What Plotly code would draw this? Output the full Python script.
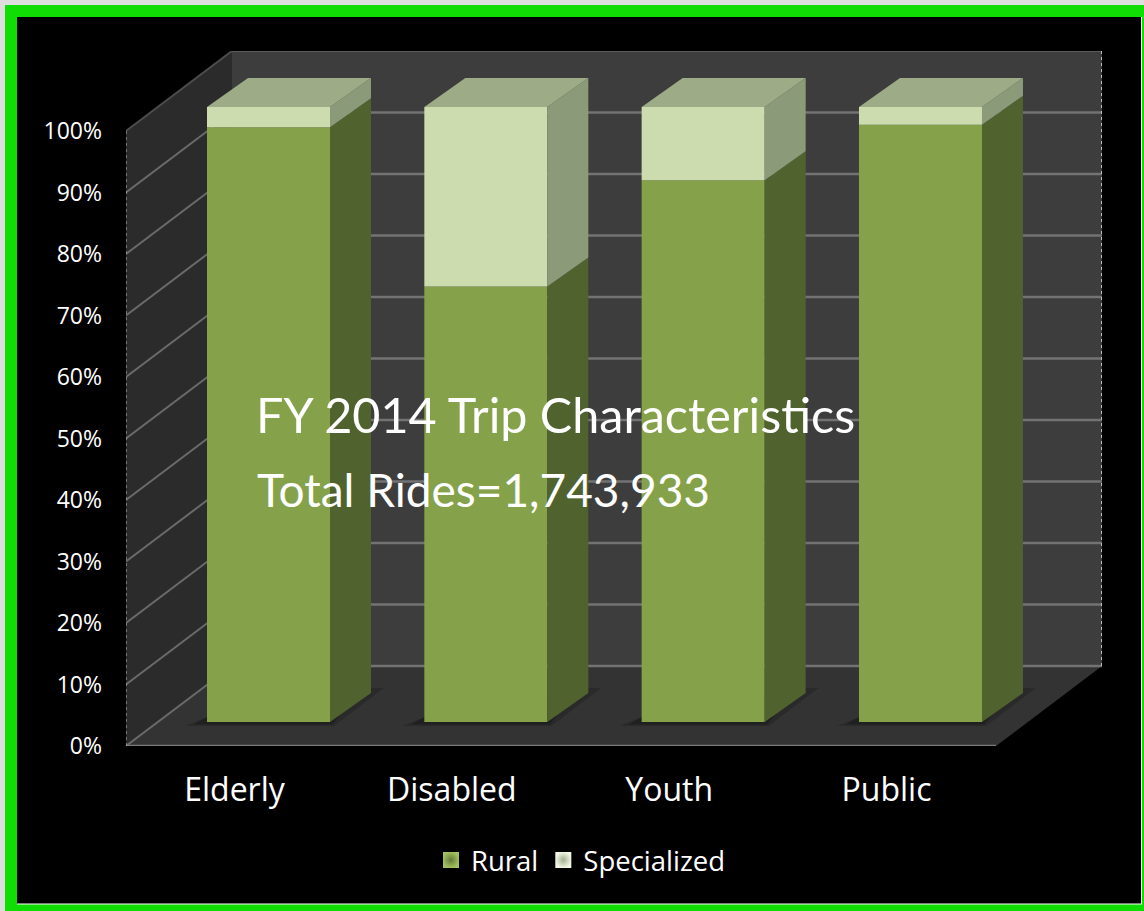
import plotly.graph_objects as go

categories = ["Elderly", "Disabled", "Youth", "Public"]
rural = [96.7, 70.8, 88.1, 97.1]
specialized = [3.3, 29.2, 11.9, 2.9]
y_ticks = [0, 10, 20, 30, 40, 50, 60, 70, 80, 90, 100]
title_lines = ["FY 2014 Trip Characteristics", "Total Rides=1,743,933"]

W, H = 1144, 911
L, R, T, B = 126, 1102, 51, 746          # plot rectangle in page pixels
PX_X = 217.33                            # pixels per category
PX_Y = (B - T) / 113.0                   # pixels per percent
X0 = -(268.5 - L) / PX_X
X1 = X0 + (R - L) / PX_X
dx = lambda p: p / PX_X
dy = lambda p: p / PX_Y
WALL_DX, WALL_DY = dx(106), dy(80)
BAR_DX, BAR_DY = dx(41), dy(29)
BAR_W = 123 / PX_X
BASE = dy(24)
FRONT_R = X0 + (996 - L) / PX_X
px = lambda v: (v - L) / (R - L)
py = lambda v: (B - v) / (B - T)

C_RURAL, C_RURAL_SIDE = "#85a24b", "#50632e"
C_SPEC, C_SPEC_SIDE, C_SPEC_TOP = "#cddcae", "#8b9a78", "#9dab87"
FONT = "Open Sans"


def poly(points):
    return "M" + " L".join(f"{a},{b}" for a, b in points) + " Z"


shapes = [
    dict(type="rect", xref="paper", yref="paper", x0=px(0), x1=px(W), y0=py(H), y1=py(0),
         fillcolor="#dedede", line_width=0, layer="below"),
    dict(type="rect", xref="paper", yref="paper", x0=px(5), x1=px(W), y0=py(H), y1=py(5),
         fillcolor="#10dd04", line_width=0, layer="below"),
    dict(type="rect", xref="paper", yref="paper", x0=px(17), x1=px(1142), y0=py(904.5), y1=py(17),
         fillcolor="#ffffff", line_width=0, layer="below"),
    dict(type="rect", xref="paper", yref="paper", x0=px(17), x1=px(1141), y0=py(903.5), y1=py(17),
         fillcolor="#000000", line_width=0, layer="below"),
    # left wall, back wall, floor
    dict(type="path", layer="below", line_width=0, fillcolor="#2b2b2b",
         path=poly([(X0, 0), (X0, 100), (X0 + WALL_DX, 100 + WALL_DY), (X0 + WALL_DX, WALL_DY)])),
    dict(type="path", layer="below", line_width=0, fillcolor="#3d3d3d",
         path=poly([(X0 + WALL_DX, WALL_DY), (X0 + WALL_DX, 100 + WALL_DY), (X1, 100 + WALL_DY), (X1, WALL_DY)])),
    dict(type="path", layer="below", line_width=0, fillcolor="#333333",
         path=poly([(X0, 0), (FRONT_R, 0), (X1, WALL_DY), (X0 + WALL_DX, WALL_DY)])),
]
for t in y_ticks:
    left_color = "#4c4c4c" if t == 100 else "#6a6a6a"
    shapes.append(dict(type="line", layer="below", x0=X0, y0=t, x1=X0 + WALL_DX, y1=t + WALL_DY,
                       line=dict(color=left_color, width=2)))
    if t < 100:
        shapes.append(dict(type="line", layer="below", x0=X0 + WALL_DX, y0=t + WALL_DY, x1=X1, y1=t + WALL_DY,
                           line=dict(color="#737373", width=2.5)))
shapes += [
    dict(type="line", layer="below", x0=X0, y0=0, x1=FRONT_R, y1=0, line=dict(color="#7a7a7a", width=2.5)),
    dict(type="line", layer="below", x0=X0 + WALL_DX, y0=100 + WALL_DY, x1=X1, y1=100 + WALL_DY,
         line=dict(color="#5a5a5a", width=2)),
    dict(type="line", layer="below", x0=X0, y0=0, x1=X0, y1=100, line=dict(color="#bbbbbb", width=1, dash="dot")),
    dict(type="line", layer="below", x0=X1, y0=WALL_DY, x1=X1, y1=100 + WALL_DY,
         line=dict(color="#bbbbbb", width=2, dash="dot")),
]
xpos = list(range(len(categories)))
for i in xpos:
    xl, xr = i - BAR_W / 2, i + BAR_W / 2
    for grow, alpha in ((1.0, 0.16), (0.6, 0.22)):
        shapes.append(dict(type="path", layer="below", line_width=0, fillcolor=f"rgba(0,0,0,{alpha})",
                           path=poly([(xl - dx(22 * grow), BASE - dy(4 * grow)), (xr + dx(4 * grow), BASE - dy(4 * grow)),
                                      (xr + dx(54 * grow), BASE + dy(34)), (xr + dx(38), BASE + dy(34)),
                                      (xl, BASE + dy(5))])))

fig = go.Figure()
fig.add_bar(name="Rural", x=xpos, y=rural, base=[BASE] * 4, width=BAR_W, marker_color=C_RURAL,
            marker_line_width=0, showlegend=False)
fig.add_bar(name="Specialized", x=xpos, y=specialized, base=[BASE + v for v in rural], width=BAR_W,
            marker_color=C_SPEC, marker_line_width=0, showlegend=False)

for i, r, s in zip(xpos, rural, specialized):
    xr = i + BAR_W / 2
    xl = i - BAR_W / 2
    mid, top = BASE + r, BASE + r + s
    faces = [
        ([xr, xr + BAR_DX, xr + BAR_DX, xr, xr], [BASE, BASE + BAR_DY, mid + BAR_DY, mid, BASE], C_RURAL_SIDE),
        ([xr, xr + BAR_DX, xr + BAR_DX, xr, xr], [mid, mid + BAR_DY, top + BAR_DY, top, mid], C_SPEC_SIDE),
        ([xl, xl + BAR_DX, xr + BAR_DX, xr, xl], [top, top + BAR_DY, top + BAR_DY, top, top], C_SPEC_TOP),
    ]
    for fx, fy, color in faces:
        fig.add_scatter(x=fx, y=fy, mode="lines", fill="toself", fillcolor=color, line_width=0,
                        showlegend=False, hoverinfo="skip")

# legend entries with the larger, shaded swatches of the reference
for name, centre, edge in (("Rural", "#a3c060", "#637a37"), ("Specialized", "#f2f7e6", "#a3b08f")):
    fig.add_scatter(name=name, x=[None], y=[None], mode="markers", hoverinfo="skip",
                    marker=dict(symbol="square", size=20, color=centre, line_width=0,
                                gradient=dict(type="radial", color=edge)))

annotations = [
    dict(text=title_lines[0], xref="paper", yref="paper", x=px(254), y=py(414), xanchor="left", yanchor="middle",
         showarrow=False, font=dict(family="Lato", size=48.5, color="white")),
    dict(text=title_lines[1], xref="paper", yref="paper", x=px(255), y=py(490), xanchor="left", yanchor="middle",
         showarrow=False, font=dict(family="Lato", size=46, color="white")),
]

fig.update_layout(
    width=W, height=H, margin=dict(l=L, r=W - R, t=T, b=H - B, pad=0),
    paper_bgcolor="#000000", plot_bgcolor="rgba(0,0,0,0)", barmode="overlay",
    shapes=shapes, annotations=annotations,
    font=dict(family=FONT, color="white"),
    legend=dict(orientation="h", x=px(581), y=py(860), xanchor="center", yanchor="middle",
                font=dict(family=FONT, size=27.5, color="white"), bgcolor="rgba(0,0,0,0)",
                itemwidth=30, traceorder="normal"),
    xaxis=dict(range=[X0, X1], tickmode="array", tickvals=[i - dx(34) for i in xpos], ticktext=categories,
               showgrid=False, zeroline=False, showline=False, ticks="", ticklabelstandoff=22,
               tickfont=dict(family=FONT, size=32, color="white")),
    yaxis=dict(range=[0, 113], tickmode="array", tickvals=y_ticks, ticktext=[f"{t}%" for t in y_ticks],
               showgrid=False, zeroline=False, showline=False, ticks="", ticklabelstandoff=23,
               tickfont=dict(family=FONT, size=23, color="white")),
)
fig.write_html("out.html", post_script="document.body.style.margin='0';", config=dict(displayModeBar=False))
